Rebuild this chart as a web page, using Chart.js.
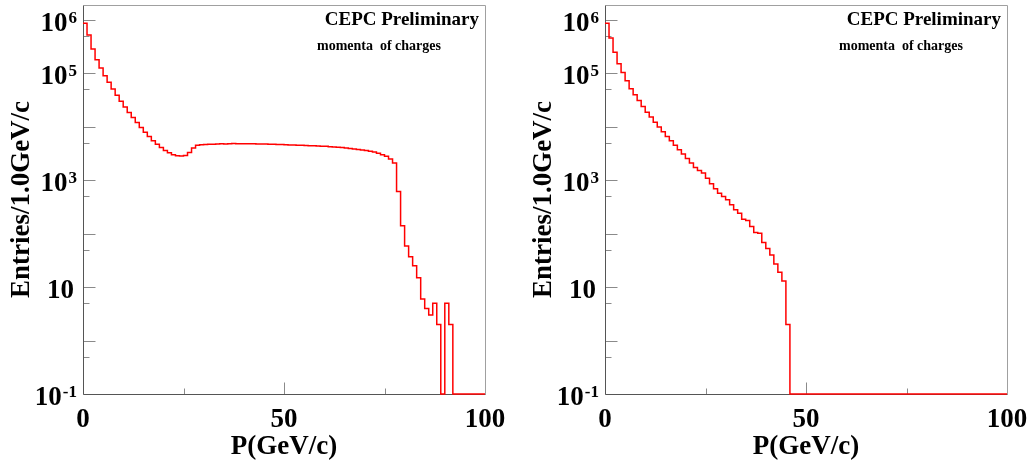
<!DOCTYPE html>
<html>
<head>
<meta charset="utf-8">
<script src="https://cdn.jsdelivr.net/npm/chart.js@4.4.0/dist/chart.umd.min.js"></script>
<style>
html, body { margin: 0; padding: 0; background: #fff; overflow: hidden; }
.panel { position: absolute; top: 0; width: 516px; height: 463px; }
</style>
</head>
<body>
<div class="panel" style="left:0"><canvas id="left-panel" width="516" height="463"></canvas></div>
<div class="panel" style="left:522px"><canvas id="right-panel" width="516" height="463"></canvas></div>
<script>
// entries per 1 GeV/c bin, bin i covers [i, i+1)
const leftEntries = [
    870000, 520000, 285000, 180000, 126000, 90000, 68000, 51000, 39000, 30000,
    23400, 18500, 14900, 12000, 9700, 7900, 6600, 5500, 4700, 4100,
    3600, 3260, 3000, 2870, 2850, 2900, 3300, 4000, 4500, 4600,
    4650, 4700, 4720, 4750, 4800, 4780, 4820, 4850, 4800, 4830,
    4810, 4790, 4800, 4770, 4760, 4740, 4700, 4720, 4680, 4650,
    4600, 4580, 4560, 4530, 4500, 4480, 4440, 4400, 4370, 4330,
    4300, 4250, 4200, 4150, 4080, 4000, 3920, 3850, 3750, 3680,
    3600, 3500, 3380, 3200, 3000, 2800, 2500, 2100, 614, 140,
    59, 37, 25, 15, 6, 4, 3, 5, 2, 0,
    5, 2, 0, 0, 0, 0, 0, 0, 0, 0
]

const rightEntries = [
    870000, 460000, 247000, 151000, 104000, 73000, 51500, 39700, 31000, 24000,
    18800, 15200, 12200, 9900, 8050, 6600, 5500, 4500, 3700, 3080,
    2550, 2090, 1730, 1520, 1360, 1090, 857, 690, 573, 495,
    430, 346, 279, 242, 187, 176, 136, 105, 102, 68,
    53, 40, 27, 19, 13, 2, 0, 0, 0, 0,
    0, 0, 0, 0, 0, 0, 0, 0, 0, 0,
    0, 0, 0, 0, 0, 0, 0, 0, 0, 0,
    0, 0, 0, 0, 0, 0, 0, 0, 0, 0,
    0, 0, 0, 0, 0, 0, 0, 0, 0, 0,
    0, 0, 0, 0, 0, 0, 0, 0, 0, 0
]

const binEdges = Array.from({length: 101}, (_, i) => i)

const xMin = 0
const xMax = 100
const yMin = 0.1
const yMax = 1.9e6

const xTickLabels = [0, 50, 100]
const xMajorTicks = [50]
const xMinorTicks = [25, 75]

const yLabelValues = [1e6, 1e5, 1e3, 10, 0.1]
const yLabelExponents = ['6', '5', '3', '', '-1']
const yMajorTicks = [0.1, 1, 10, 100, 1e3, 1e4, 1e5, 1e6]
const yMinorTicks = [0.5, 5, 50, 500, 5e3, 5e4, 5e5]

const headerText = 'CEPC Preliminary'
const subText = 'momenta  of charges'

const serif = "'Liberation Serif', 'Times New Roman', serif"

const rootDecor = {
    id: 'rootDecor',
    beforeDatasetsDraw(chart) {
        const {ctx, chartArea: a, scales: {x, y}} = chart
        const L = Math.round(a.left) + 0.5
        const R = Math.round(a.right) + 0.5
        const T = Math.round(a.top) + 0.5
        const B = Math.round(a.bottom) + 0.5
        ctx.save()
        ctx.lineWidth = 1
        ctx.strokeStyle = '#a0a0a0'
        ctx.beginPath()
        ctx.moveTo(L, T); ctx.lineTo(R, T); ctx.lineTo(R, B)
        ctx.stroke()

        ctx.strokeStyle = '#8a8a8a'
        ctx.beginPath()
        yMajorTicks.forEach(v => {
            const py = Math.round(y.getPixelForValue(v)) + 0.5
            ctx.moveTo(L, py); ctx.lineTo(L + 12, py)
        })
        yMinorTicks.forEach(v => {
            const py = Math.round(y.getPixelForValue(v)) + 0.5
            ctx.moveTo(L, py); ctx.lineTo(L + 6, py)
        })
        xMajorTicks.forEach(v => {
            const px = Math.round(x.getPixelForValue(v)) + 0.5
            ctx.moveTo(px, B); ctx.lineTo(px, B - 12)
        })
        xMinorTicks.forEach(v => {
            const px = Math.round(x.getPixelForValue(v)) + 0.5
            ctx.moveTo(px, B); ctx.lineTo(px, B - 6)
        })
        ctx.stroke()

        ctx.strokeStyle = '#555'
        ctx.beginPath()
        ctx.moveTo(L, T); ctx.lineTo(L, B); ctx.lineTo(R, B)
        ctx.stroke()
        ctx.restore()
    },
    afterDraw(chart) {
        const {ctx, chartArea: a, scales: {y}} = chart
        ctx.save()
        ctx.fillStyle = '#000'
        ctx.textBaseline = 'alphabetic'

        ctx.textAlign = 'right'
        ctx.font = `bold 19px ${serif}`
        ctx.fillText(headerText, a.right - 6, 25)
        ctx.font = `bold 14px ${serif}`
        ctx.fillText(subText, a.right - 44, 50)

        yLabelValues.forEach((v, i) => {
            const py = y.getPixelForValue(v)
            const exp = yLabelExponents[i]
            ctx.textAlign = 'right'
            if (exp) {
                ctx.font = `bold 17px ${serif}`
                const w = ctx.measureText(exp).width
                ctx.fillText(exp, a.left - 6, py + 3)
                ctx.font = `bold 27px ${serif}`
                ctx.fillText('10', a.left - 7 - w, py + 11)
            } else {
                ctx.font = `bold 27px ${serif}`
                ctx.fillText('10', a.left - 9, py + 11)
            }
        })
        ctx.restore()
    }
}

const makeChart = (canvasId, entries) => {
    // empty bins sit on the axis floor, like ROOT draws them
    const points = binEdges.map((edge, i) => ({
        x: edge,
        y: i < entries.length && entries[i] > 0 ? entries[i] : yMin
    }))

    return new Chart(document.getElementById(canvasId), {
        type: 'line',
        data: {
            datasets: [{
                data: points,
                stepped: 'before',
                borderColor: '#ff0000',
                borderWidth: 1.5,
                pointRadius: 0,
                fill: false,
                clip: 4
            }]
        },
        options: {
            responsive: false,
            animation: false,
            layout: {padding: {top: 5, right: 31, left: 0, bottom: 0}},
            plugins: {legend: {display: false}, tooltip: {enabled: false}},
            scales: {
                x: {
                    type: 'linear',
                    min: xMin,
                    max: xMax,
                    grid: {display: false},
                    border: {display: false},
                    afterBuildTicks: s => { s.ticks = xTickLabels.map(v => ({value: v})) },
                    ticks: {
                        color: '#000',
                        padding: 2,
                        maxRotation: 0,
                        autoSkip: false,
                        font: {family: serif, weight: 'bold', size: 27}
                    },
                    title: {
                        display: true,
                        text: 'P(GeV/c)',
                        color: '#000',
                        padding: 0,
                        font: {family: serif, weight: 'bold', size: 27}
                    },
                    afterFit: s => { s.height = 69 }
                },
                y: {
                    type: 'logarithmic',
                    min: yMin,
                    max: yMax,
                    grid: {display: false},
                    border: {display: false},
                    ticks: {display: false},
                    title: {
                        display: true,
                        text: 'Entries/1.0GeV/c',
                        color: '#000',
                        padding: {top: 6, bottom: 0},
                        font: {family: serif, weight: 'bold', size: 27}
                    },
                    afterFit: s => { s.width = 83 }
                }
            }
        },
        plugins: [rootDecor]
    })
}

makeChart('left-panel', leftEntries)
makeChart('right-panel', rightEntries)
</script>
</body>
</html>
